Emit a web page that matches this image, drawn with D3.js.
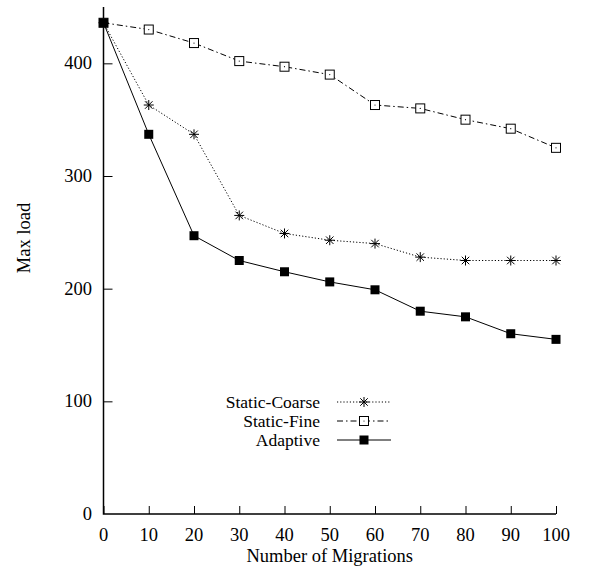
<!DOCTYPE html>
<html>
<head>
<meta charset="utf-8">
<script src="https://cdn.jsdelivr.net/npm/d3@7"></script>
<style>
	body { margin: 0; background: #fff; }
	svg text { font-family: "Liberation Serif", "Tinos", "Times New Roman", Times, "DejaVu Serif", serif; font-size: 18.5px; fill: #000; }
	svg text.legend-label { font-size: 17.5px; }
</style>
</head>
<body>
<div id="chart"></div>
<script>
// data
const migrations = [0, 10, 20, 30, 40, 50, 60, 70, 80, 90, 100];
const staticCoarse = [436, 363, 337, 265, 249, 243, 240, 228, 225, 225, 225];
const staticFine = [436, 430, 418, 402, 397, 390, 363, 360, 350, 342, 325];
const adaptive = [436, 337, 247, 225, 215, 206, 199, 180, 175, 160, 155];
const xTicks = [0, 10, 20, 30, 40, 50, 60, 70, 80, 90, 100];
const yTicks = [0, 100, 200, 300, 400];

const series = [
	{ name: 'Static-Coarse', values: staticCoarse, dash: '1.2,2', marker: 'star' },
	{ name: 'Static-Fine', values: staticFine, dash: '6,3,1.5,3', marker: 'openSquare' },
	{ name: 'Adaptive', values: adaptive, dash: null, marker: 'filledSquare' },
];

const width = 597, height = 576;
const margin = { top: 7, right: 41, bottom: 62, left: 103.5 };
const serif = '"Liberation Serif", "Tinos", "Times New Roman", Times, "DejaVu Serif", serif';

const svg = d3.select('#chart')
	.append('svg')
	.attr('width', width)
	.attr('height', height)
	.attr('font-family', serif);

const x = d3.scaleLinear()
	.domain([0, 100])
	.range([margin.left, width - margin.right]);

const y = d3.scaleLinear()
	.domain([0, 450])
	.range([height - margin.bottom, margin.top]);

// axes (ticks pointing inward, like gnuplot)
const xAxis = svg.append('g')
	.attr('transform', `translate(0,${y(0)})`)
	.call(d3.axisTop(x).tickValues(xTicks).tickSize(8).tickFormat(''));
xAxis.select('.domain').remove();
xAxis.selectAll('line').attr('stroke', '#000');

const yAxis = svg.append('g')
	.attr('transform', `translate(${x(0)},0)`)
	.call(d3.axisRight(y).tickValues(yTicks.filter(d => d > 0)).tickSize(9).tickFormat(''));
yAxis.select('.domain').remove();
yAxis.selectAll('line').attr('stroke', '#000');

svg.append('path')
	.attr('d', `M${x(0)},${y(450)}V${y(0)}H${x(100)}`)
	.attr('fill', 'none')
	.attr('stroke', '#000')
	.attr('stroke-width', 1.5);

svg.selectAll('.x-label')
	.data(xTicks)
	.join('text')
	.attr('class', 'x-label')
	.attr('font-family', serif)
	.attr('x', d => x(d))
	.attr('y', y(0) + 27)
	.attr('text-anchor', 'middle')
	.text(d => d);

svg.selectAll('.y-label')
	.data(yTicks)
	.join('text')
	.attr('class', 'y-label')
	.attr('font-family', serif)
	.attr('x', 92)
	.attr('y', d => y(d) + 6)
	.attr('text-anchor', 'end')
	.text(d => d);

svg.append('text')
	.attr('font-family', serif)
	.attr('x', (x(0) + x(100)) / 2)
	.attr('y', 562)
	.attr('text-anchor', 'middle')
	.text('Number of Migrations');

svg.append('text')
	.attr('font-family', serif)
	.attr('transform', `translate(30,${y(245)}) rotate(-90)`)
	.attr('text-anchor', 'middle')
	.text('Max load');

function drawMarker(g, type, cx, cy) {
	if (type === 'filledSquare') {
		g.append('rect')
			.attr('x', cx - 4.5).attr('y', cy - 4.5)
			.attr('width', 9).attr('height', 9)
			.attr('fill', '#000');
	} else if (type === 'openSquare') {
		g.append('rect')
			.attr('x', cx - 4.5).attr('y', cy - 4.5)
			.attr('width', 9).attr('height', 9)
			.attr('fill', '#fff')
			.attr('stroke', '#000')
			.attr('stroke-width', 1);
		g.append('circle')
			.attr('cx', cx).attr('cy', cy).attr('r', 0.6)
			.attr('fill', '#000');
	} else {
		const r = 5;
		const d = [[-r, 0, r, 0], [0, -r, 0, r], [-r * 0.75, -r * 0.75, r * 0.75, r * 0.75], [-r * 0.75, r * 0.75, r * 0.75, -r * 0.75]]
			.map(p => `M${cx + p[0]},${cy + p[1]}L${cx + p[2]},${cy + p[3]}`).join('');
		g.append('path')
			.attr('d', d)
			.attr('stroke', '#000')
			.attr('stroke-width', 1);
	}
}

const line = d3.line()
	.x((d, i) => x(migrations[i]))
	.y(d => y(d));

// draw back to front so Adaptive sits on top
series.forEach(s => {
	svg.append('path')
		.datum(s.values)
		.attr('d', line)
		.attr('fill', 'none')
		.attr('stroke', '#000')
		.attr('stroke-width', 1)
		.attr('stroke-dasharray', s.dash);
	const g = svg.append('g');
	s.values.forEach((v, i) => drawMarker(g, s.marker, x(migrations[i]), y(v)));
});

// legend
const legendRows = [402, 421, 440];
series.forEach((s, i) => {
	const ly = legendRows[i];
	svg.append('text')
		.attr('class', 'legend-label')
		.attr('font-family', serif)
		.attr('x', 320)
		.attr('y', ly + 6)
		.attr('text-anchor', 'end')
		.text(s.name);
	svg.append('line')
		.attr('x1', 337).attr('x2', 391)
		.attr('y1', ly).attr('y2', ly)
		.attr('stroke', '#000')
		.attr('stroke-width', 1)
		.attr('stroke-dasharray', s.dash);
	drawMarker(svg.append('g'), s.marker, 364, ly);
});
</script>
</body>
</html>
